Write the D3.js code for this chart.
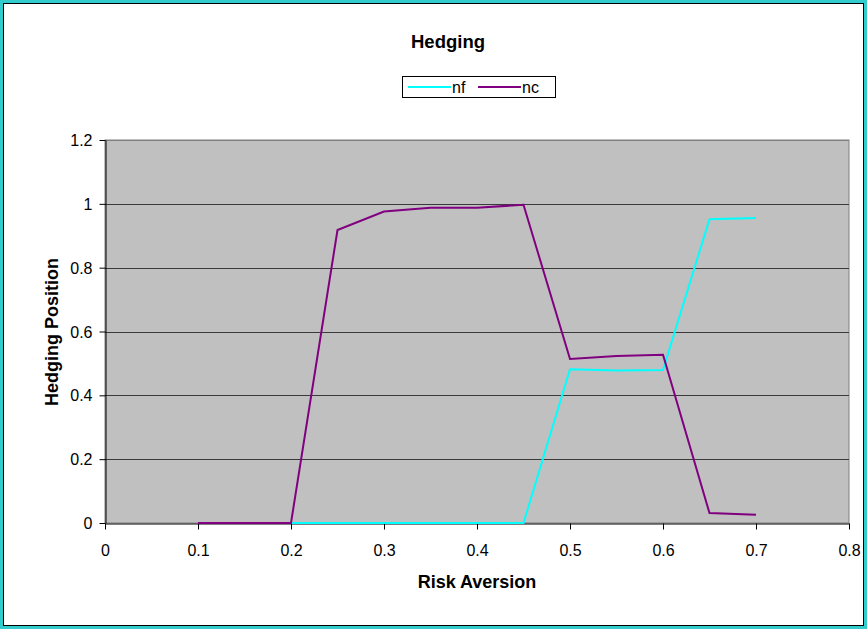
<!DOCTYPE html>
<html>
<head>
<meta charset="utf-8">
<script src="https://cdn.jsdelivr.net/npm/d3@7"></script>
<style>
  html, body { margin: 0; padding: 0; background: #fff; }
  svg { display: block; font-family: Arial, "Liberation Sans", sans-serif; }
</style>
</head>
<body>
<svg id="chart" width="867" height="629"></svg>
<script>
// Risk aversion levels and hedging positions for each instrument
const riskAversion = [0.1, 0.15, 0.2, 0.25, 0.3, 0.35, 0.4, 0.45, 0.5, 0.55, 0.6, 0.65, 0.7];
const nf = [0, 0, 0, 0, 0, 0, 0, 0, 0.482, 0.478, 0.479, 0.952, 0.956];
const nc = [0, 0, 0, 0.918, 0.976, 0.988, 0.988, 0.997, 0.514, 0.523, 0.527, 0.031, 0.026];
const seriesNames = ["nf", "nc"];
const seriesColors = ["#00FFFF", "#800080"];
const xTicks = [0, 0.1, 0.2, 0.3, 0.4, 0.5, 0.6, 0.7, 0.8];
const yTicks = [0, 0.2, 0.4, 0.6, 0.8, 1, 1.2];

const svg = d3.select("#chart");
const W = 867, H = 629;

// Outer frame
svg.append("rect").attr("x", 0).attr("y", 0).attr("width", W).attr("height", H).attr("fill", "#33CCCC");
svg.append("rect").attr("x", 3.5).attr("y", 3.5).attr("width", W - 7).attr("height", H - 7)
  .attr("fill", "#fff").attr("stroke", "#000").attr("stroke-width", 1);

const plot = { left: 105, right: 849, top: 140, bottom: 523 };
const x = d3.scaleLinear().domain([0, 0.8]).range([plot.left, plot.right]);
const y = d3.scaleLinear().domain([0, 1.2]).range([plot.bottom, plot.top]);

// Plot background
svg.append("rect")
  .attr("x", plot.left).attr("y", plot.top)
  .attr("width", plot.right - plot.left).attr("height", plot.bottom - plot.top)
  .attr("fill", "#C0C0C0").attr("stroke", "#808080").attr("stroke-width", 1);

// Horizontal gridlines
svg.append("g").selectAll("line").data(yTicks.filter(d => d > 0))
  .join("line")
  .attr("x1", plot.left).attr("x2", plot.right)
  .attr("y1", d => Math.round(y(d)) + 0.5).attr("y2", d => Math.round(y(d)) + 0.5)
  .attr("stroke", d => d === 1.2 ? "#808080" : "#3a3a3a").attr("stroke-width", 1);

// Axes
const xAxis = svg.append("g")
  .attr("transform", `translate(0,${plot.bottom + 0.5})`)
  .call(d3.axisBottom(x).tickValues(xTicks).tickFormat(d3.format("")).tickSize(6).tickSizeOuter(0));
const yAxis = svg.append("g")
  .attr("transform", `translate(${plot.left + 0.5},0)`)
  .call(d3.axisLeft(y).tickValues(yTicks).tickFormat(d3.format("")).tickSize(6).tickSizeOuter(0));
[xAxis, yAxis].forEach(g => {
  g.attr("font-size", null);
  g.select(".domain").attr("stroke", "#000");
  g.selectAll(".tick line").attr("stroke", "#000");
  g.selectAll(".tick text").attr("fill", "#000").style("font-size", "16px")
    .style("font-family", "Arial, 'Liberation Sans', sans-serif");
});
xAxis.selectAll(".tick text").attr("y", 32).attr("dy", 0);
yAxis.selectAll(".tick text").attr("x", -13).attr("dy", "0.35em");

// Series lines
const line = d3.line().x((d, i) => x(riskAversion[i])).y(d => y(d));
[nf, nc].forEach((vals, k) => {
  svg.append("path").datum(vals)
    .attr("d", line)
    .attr("fill", "none")
    .attr("stroke", seriesColors[k])
    .attr("stroke-width", 2)
    .attr("stroke-linejoin", "miter");
});

// Title
svg.append("text").attr("x", 448).attr("y", 47.5).attr("text-anchor", "middle")
  .style("font-size", "18.5px").style("font-weight", "bold").text("Hedging");

// Legend
const legend = svg.append("g");
legend.append("rect").attr("x", 402.5).attr("y", 76.5).attr("width", 153).attr("height", 21)
  .attr("fill", "#fff").attr("stroke", "#000").attr("stroke-width", 1);
const legendX = [408, 478];
seriesNames.forEach((name, k) => {
  legend.append("line").attr("x1", legendX[k]).attr("x2", legendX[k] + 43)
    .attr("y1", 87).attr("y2", 87)
    .attr("stroke", seriesColors[k]).attr("stroke-width", 2);
  legend.append("text").attr("x", legendX[k] + 44).attr("y", 92.5)
    .style("font-size", "16px").text(name);
});

// Axis titles
svg.append("text").attr("x", 477).attr("y", 588).attr("text-anchor", "middle")
  .style("font-size", "18px").style("font-weight", "bold").text("Risk Aversion");
svg.append("text")
  .attr("transform", "translate(58,332) rotate(-90)")
  .attr("text-anchor", "middle")
  .style("font-size", "18px").style("font-weight", "bold").text("Hedging Position");
</script>
</body>
</html>
